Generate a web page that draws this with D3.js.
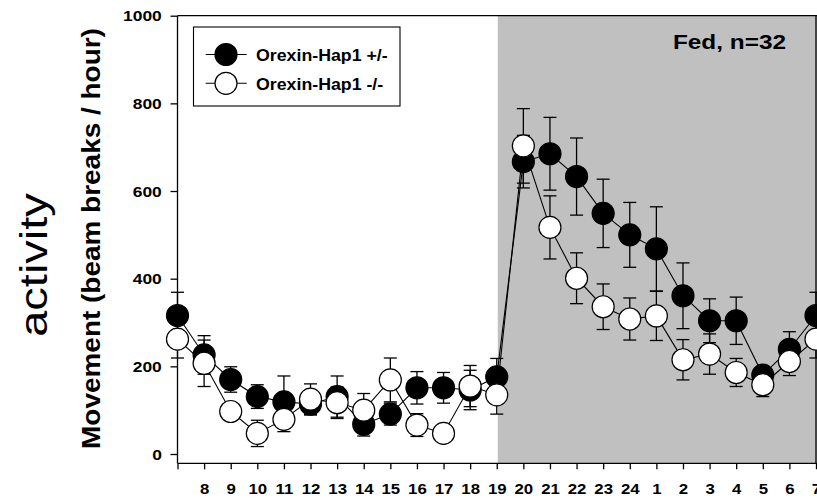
<!DOCTYPE html>
<html>
<head>
<meta charset="utf-8">
<script src="https://cdn.jsdelivr.net/npm/d3@7"></script>
<style>
  html, body { margin: 0; padding: 0; background: #fff; }
  svg { display: block; font-family: "Liberation Sans", Arial, sans-serif; }
</style>
</head>
<body>
<div id="chart"></div>
<script>
// hours of the day (x positions), first label is left empty
const hours = [7, 8, 9, 10, 11, 12, 13, 14, 15, 16, 17, 18, 19, 20, 21, 22, 23, 24, 1, 2, 3, 4, 5, 6, 7];
const tickLabels = ["", "8", "9", "10", "11", "12", "13", "14", "15", "16", "17", "18", "19",
                    "20", "21", "22", "23", "24", "1", "2", "3", "4", "5", "6", "7"];
const yTicks = [0, 200, 400, 600, 800, 1000];

// Orexin-Hap1 +/-  (filled)
const hetMean = [316, 226, 170, 131, 119, 114, 131, 68, 91, 151, 151, 146, 176,
                 667, 685, 633, 549, 500, 468, 361, 304, 304, 180, 239, 316];
const hetSE   = [53, 44, 29, 27, 59, 25, 47, 27, 25, 37, 35, 45, 42,
                 60, 83, 88, 78, 74, 96, 75, 50, 54, 20, 40, 53];
// Orexin-Hap1 -/-  (open)
const koMean  = [262, 207, 97, 47, 79, 125, 117, 100, 169, 66, 47, 155, 135,
                 703, 517, 401, 336, 308, 315, 215, 228, 186, 158, 211, 262];
const koSE    = [43, 53, 20, 30, 28, 35, 36, 38, 50, 26, 15, 47, 44,
                 85, 72, 58, 52, 48, 56, 46, 46, 32, 27, 32, 43];

const darkStart = 12; // index of hour 19, lights off

const W = 817, H = 501;
const font = '"Liberation Sans", Arial, sans-serif';

const svg = d3.select("#chart").append("svg")
    .attr("width", W)
    .attr("height", H);

const x = d3.scaleLinear().domain([0, hours.length - 1]).range([177.5, 816]);
const y = d3.scaleLinear().domain([0, 1000]).range([454, 15.7]);
const yBottom = 463.3; // x axis sits a bit below zero

// shaded dark phase
svg.append("rect")
    .attr("x", x(darkStart) + 1)
    .attr("y", y(1000))
    .attr("width", W - x(darkStart))
    .attr("height", yBottom - y(1000))
    .attr("fill", "#c0c0c0");

// frame lines (top, right)
svg.append("line")
    .attr("x1", x(0)).attr("x2", W)
    .attr("y1", y(1000)).attr("y2", y(1000))
    .attr("stroke", "#000").attr("stroke-width", 1.3);
svg.append("line")
    .attr("x1", x(hours.length - 1)).attr("x2", x(hours.length - 1))
    .attr("y1", y(1000)).attr("y2", yBottom)
    .attr("stroke", "#000").attr("stroke-width", 1.3);

// y axis
const yAxis = svg.append("g")
    .attr("transform", `translate(${x(0)},0)`)
    .call(d3.axisLeft(y).tickValues(yTicks).tickSize(7).tickSizeOuter(0).tickFormat(d3.format("d")));
yAxis.select(".domain").remove();
yAxis.selectAll(".tick line").attr("stroke-width", 1.3);
yAxis.selectAll(".tick text")
    .attr("font-family", font)
    .attr("font-weight", "bold")
    .attr("font-size", 15)
    .attr("fill", "#000")
    .attr("x", -15.7 / 1.16)
    .attr("dy", "0.35em")
    .attr("transform", "scale(1.16,1)");
svg.append("line")
    .attr("x1", x(0)).attr("x2", x(0))
    .attr("y1", y(1000)).attr("y2", yBottom)
    .attr("stroke", "#000").attr("stroke-width", 1.3);

// x axis
const xAxis = svg.append("g")
    .attr("transform", `translate(0,${yBottom})`)
    .call(d3.axisBottom(x).tickValues(d3.range(hours.length)).tickSize(6).tickSizeOuter(0)
        .tickFormat(i => tickLabels[i]));
xAxis.select(".domain").remove();
xAxis.selectAll(".tick line").attr("stroke-width", 1.3);
xAxis.selectAll(".tick text")
    .attr("font-family", font)
    .attr("font-weight", "bold")
    .attr("font-size", 15)
    .attr("fill", "#000")
    .attr("y", 30.7)
    .attr("dy", 0)
    .attr("transform", "scale(1.12,1)")
    .attr("x", function (i) { return 0; });
// scale() also moves the tick group offset, so put the scale inside each tick
xAxis.selectAll(".tick text").attr("transform", null).each(function () {
    d3.select(this).attr("transform", "scale(1.12,1)");
});
svg.append("line")
    .attr("x1", x(0)).attr("x2", W)
    .attr("y1", yBottom).attr("y2", yBottom)
    .attr("stroke", "#000").attr("stroke-width", 1.3);

// axis titles
svg.append("text")
    .attr("transform", `translate(100,238.5) rotate(-90) scale(1.096,1)`)
    .attr("text-anchor", "middle")
    .attr("font-family", font)
    .attr("font-weight", "bold")
    .attr("font-size", 25.5)
    .text("Movement (beam breaks / hour)");

svg.append("text")
    .attr("transform", `translate(47,265) rotate(-90) scale(1.236,1)`)
    .attr("text-anchor", "middle")
    .attr("font-family", font)
    .attr("font-size", 38)
    .text("activity");

// series
function drawSeries(mean, se, fill) {
    const g = svg.append("g");
    const line = d3.line()
        .x((d, i) => x(i))
        .y(d => y(d));
    g.append("path")
        .datum(mean)
        .attr("fill", "none")
        .attr("stroke", "#000")
        .attr("stroke-width", 1.1)
        .attr("d", line);

    const err = g.selectAll(".err")
        .data(mean)
        .enter()
        .append("g");
    err.append("line")
        .attr("x1", (d, i) => x(i)).attr("x2", (d, i) => x(i))
        .attr("y1", (d, i) => y(d - se[i])).attr("y2", (d, i) => y(d + se[i]))
        .attr("stroke", "#000").attr("stroke-width", 1.3);
    err.append("line")
        .attr("x1", (d, i) => x(i) - 6.5).attr("x2", (d, i) => x(i) + 6.5)
        .attr("y1", (d, i) => y(d + se[i])).attr("y2", (d, i) => y(d + se[i]))
        .attr("stroke", "#000").attr("stroke-width", 1.3);
    err.append("line")
        .attr("x1", (d, i) => x(i) - 6.5).attr("x2", (d, i) => x(i) + 6.5)
        .attr("y1", (d, i) => y(d - se[i])).attr("y2", (d, i) => y(d - se[i]))
        .attr("stroke", "#000").attr("stroke-width", 1.3);

    g.selectAll("circle")
        .data(mean)
        .enter()
        .append("circle")
        .attr("cx", (d, i) => x(i))
        .attr("cy", d => y(d))
        .attr("r", 11)
        .attr("fill", fill)
        .attr("stroke", "#000")
        .attr("stroke-width", 1.2);
}

drawSeries(hetMean, hetSE, "#000");
drawSeries(koMean, koSE, "#fff");

// legend
const legend = svg.append("g");
legend.append("rect")
    .attr("x", 193.5).attr("y", 27)
    .attr("width", 206.5).attr("height", 79)
    .attr("fill", "#fff")
    .attr("stroke", "#000")
    .attr("stroke-width", 1.1);

const legendItems = [
    { label: "Orexin-Hap1 +/-", fill: "#000", y: 54.5 },
    { label: "Orexin-Hap1 -/-", fill: "#fff", y: 83.3 }
];
legendItems.forEach(item => {
    legend.append("line")
        .attr("x1", 205.7).attr("x2", 246.7)
        .attr("y1", item.y).attr("y2", item.y)
        .attr("stroke", "#000").attr("stroke-width", 1.1);
    legend.append("circle")
        .attr("cx", 226).attr("cy", item.y)
        .attr("r", 11)
        .attr("fill", item.fill)
        .attr("stroke", "#000").attr("stroke-width", 1.2);
    legend.append("text")
        .attr("transform", `translate(256,${item.y + 6.5}) scale(1.11,1)`)
        .attr("font-family", font)
        .attr("font-weight", "bold")
        .attr("font-size", 16)
        .text(item.label);
});

svg.append("text")
    .attr("transform", "translate(786,49) scale(1.25,1)")
    .attr("text-anchor", "end")
    .attr("font-family", font)
    .attr("font-weight", "bold")
    .attr("font-size", 19.5)
    .text("Fed, n=32");
</script>
</body>
</html>
